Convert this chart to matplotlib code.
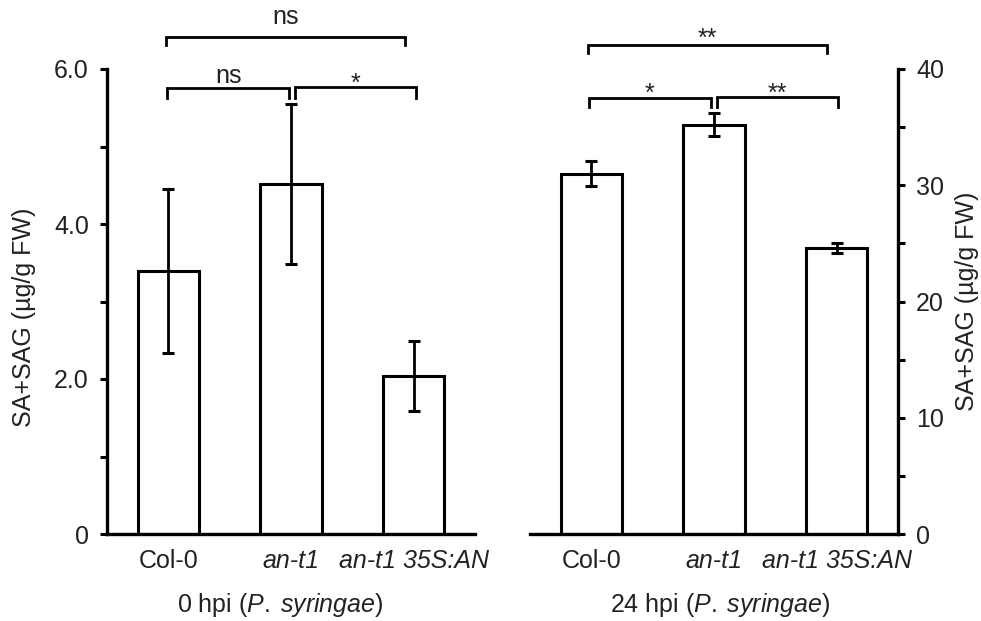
import matplotlib
matplotlib.use("Agg")
import matplotlib.pyplot as plt
import numpy as np

plt.rcParams['font.family'] = ['Liberation Sans', 'DejaVu Sans']
plt.rcParams['mathtext.fontset'] = 'custom'
plt.rcParams['mathtext.rm'] = 'Liberation Sans'
plt.rcParams['mathtext.it'] = 'Liberation Sans:italic'

# data
genotypes = ['Col-0', 'an-t1', 'an-t1 35S:AN']
italic = [False, True, True]
sa_0hpi = [3.39, 4.52, 2.04]
err_0hpi = [1.06, 1.03, 0.45]
sa_24hpi = [31.0, 35.2, 24.6]
err_24hpi = [1.1, 1.0, 0.45]

# significance brackets: (x start, x end, label, line y, leg y, text y)
sig_0hpi = [(-0.02, 1.93, 'ns', 6.41, 6.31, 6.58),
            (-0.01, 0.985, 'ns', 5.755, 5.63, 5.82),
            (1.035, 2.015, '*', 5.765, 5.63, 5.72)]
sig_24hpi = [(-0.03, 1.92, '**', 42.06, 41.38, 42.0),
             (-0.02, 0.975, '*', 37.51, 36.73, 37.3),
             (1.025, 2.01, '**', 37.59, 36.73, 37.3)]

TXT = '#222222'
FS = 18

fig = plt.figure(figsize=(9.81, 6.21), dpi=100)
ax1 = fig.add_axes([107/981, 87/621, 368/981, 465/621])
ax2 = fig.add_axes([530/981, 87/621, 368/981, 465/621])

x = np.arange(len(genotypes))


def draw_panel(ax, vals, errs, brackets, ymax, major, minor, fmt, side):
    ax.bar(x, vals, width=0.5, color='white', edgecolor='black', linewidth=2.2, zorder=2)
    ax.errorbar(x, vals, yerr=errs, fmt='none', ecolor='black', elinewidth=2.0,
                capsize=4, capthick=2.2, zorder=3)
    ax.set_xlim(-0.5, 2.5)
    ax.set_ylim(0, ymax)
    ax.set_yticks(major)
    ax.set_yticklabels([fmt(v) for v in major])
    ax.set_yticks(minor, minor=True)
    ax.set_xticks(x)
    ax.set_xticklabels(genotypes)
    for lab, it in zip(ax.get_xticklabels(), italic):
        if it:
            lab.set_fontstyle('italic')
    ax.tick_params(axis='x', length=0, pad=11, labelsize=FS, labelcolor=TXT)
    ax.tick_params(axis='y', which='major', direction='out', length=5, width=2.2,
                   pad=8, labelsize=FS, labelcolor=TXT)
    ax.tick_params(axis='y', which='minor', direction='out', length=5, width=2.2)
    for s in ['top', 'left', 'right']:
        ax.spines[s].set_visible(False)
    ax.spines[side].set_visible(True)
    ax.spines[side].set_linewidth(2.4)
    ax.spines['bottom'].set_linewidth(2.4)
    if side == 'right':
        ax.yaxis.tick_right()
        ax.yaxis.set_ticks_position('right')
    for x0, x1, lab, yl, yleg, yt in brackets:
        ax.plot([x0, x0, x1, x1], [yleg, yl, yl, yleg], color='black', lw=2.0,
                clip_on=False, solid_joinstyle='miter')
        ax.text((x0 + x1) / 2, yt, lab, ha='center', va='baseline', fontsize=FS,
                color=TXT, clip_on=False)


draw_panel(ax1, sa_0hpi, err_0hpi, sig_0hpi, 6, [0, 2, 4, 6], [1, 3, 5],
           lambda v: '0' if v == 0 else f'{v:.1f}', 'left')
draw_panel(ax2, sa_24hpi, err_24hpi, sig_24hpi, 40, [0, 10, 20, 30, 40], [5, 15, 25, 35],
           lambda v: f'{v:d}', 'right')

fig.text(24/981, 1 - 317/621, 'SA+SAG (µg/g FW)', rotation=90, ha='center', va='center',
         fontsize=FS, color=TXT)
fig.text(967/981, 1 - 301/621, 'SA+SAG (µg/g FW)', rotation=90, ha='center', va='center',
         fontsize=FS, color=TXT)
fig.text(280/981, 1 - 612/621, r'0 hpi ($\mathit{P.\;syringae}$)', ha='center',
         va='baseline', fontsize=FS, color=TXT)
fig.text(720/981, 1 - 612/621, r'24 hpi ($\mathit{P.\;syringae}$)', ha='center',
         va='baseline', fontsize=FS, color=TXT)

fig.savefig('out.png', dpi=100)
